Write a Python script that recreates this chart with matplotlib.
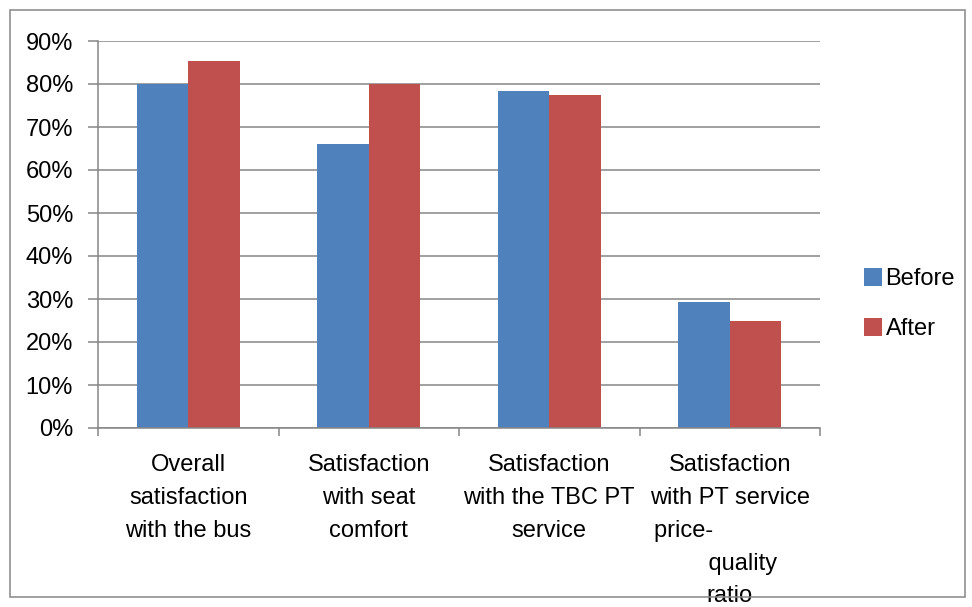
# before/after satisfaction bar chart

import matplotlib
matplotlib.use('Agg')
import matplotlib.pyplot as plt
import numpy as np
from matplotlib.patches import Rectangle
from matplotlib.ticker import PercentFormatter

categories = ['Overall\nsatisfaction\nwith the bus',
              'Satisfaction\nwith seat\ncomfort',
              'Satisfaction\nwith the TBC PT\nservice',
              'Satisfaction\nwith PT service\nprice-              \n    quality\nratio']
before = [0.80, 0.66, 0.784, 0.292]
after = [0.853, 0.80, 0.774, 0.25]
y_ticks = [0, 0.1, 0.2, 0.3, 0.4, 0.5, 0.6, 0.7, 0.8, 0.9]

blue = '#4F81BD'
red = '#C0504D'
grey = '#868686'

plt.rcParams['font.family'] = ['Liberation Sans', 'DejaVu Sans']

fig = plt.figure(figsize=(9.72, 6.07), dpi=100)
ax = fig.add_axes([98/972, 1-428/607, (820-98)/972, (428-41)/607])

x = np.arange(len(categories))
w = 1/3.5
ax.bar(x - w/2, before, w, color=blue, label='Before', zorder=3)
ax.bar(x + w/2, after, w, color=red, label='After', zorder=3)

ax.set_ylim(0, 0.9)
ax.set_xlim(-0.5, len(categories) - 0.5)
ax.set_yticks(y_ticks)
ax.yaxis.set_major_formatter(PercentFormatter(1.0, decimals=0))
ax.yaxis.grid(True, color=grey, lw=1.1, zorder=0)
ax.tick_params(axis='y', direction='out', length=7, width=1.1, color=grey,
               pad=11, labelsize=17)

ax.set_xticks(x)
ax.set_xticklabels(categories, fontsize=17, linespacing=1.63)
ax.set_xticks(np.arange(len(categories) + 1) - 0.5, minor=True)
ax.tick_params(axis='x', which='major', length=0, pad=19)
ax.tick_params(axis='x', which='minor', direction='out', length=6, width=1.1, color=grey)

for s in ['top', 'right']:
    ax.spines[s].set_visible(False)
for s in ['left', 'bottom']:
    ax.spines[s].set_color(grey)
    ax.spines[s].set_linewidth(1.1)
    ax.spines[s].set_zorder(4)

fig.legend(loc='center left', bbox_to_anchor=(843/972, 1-304/607), frameon=False,
           fontsize=17, handlelength=0.75, handleheight=0.8, handletextpad=0.15,
           labelspacing=1.2)

fig.patches.append(Rectangle((10/972, 1-597/607), 955/972, 587/607, transform=fig.transFigure,
                             fill=False, edgecolor=grey, lw=1.1))

fig.savefig('out.png', dpi=100)
